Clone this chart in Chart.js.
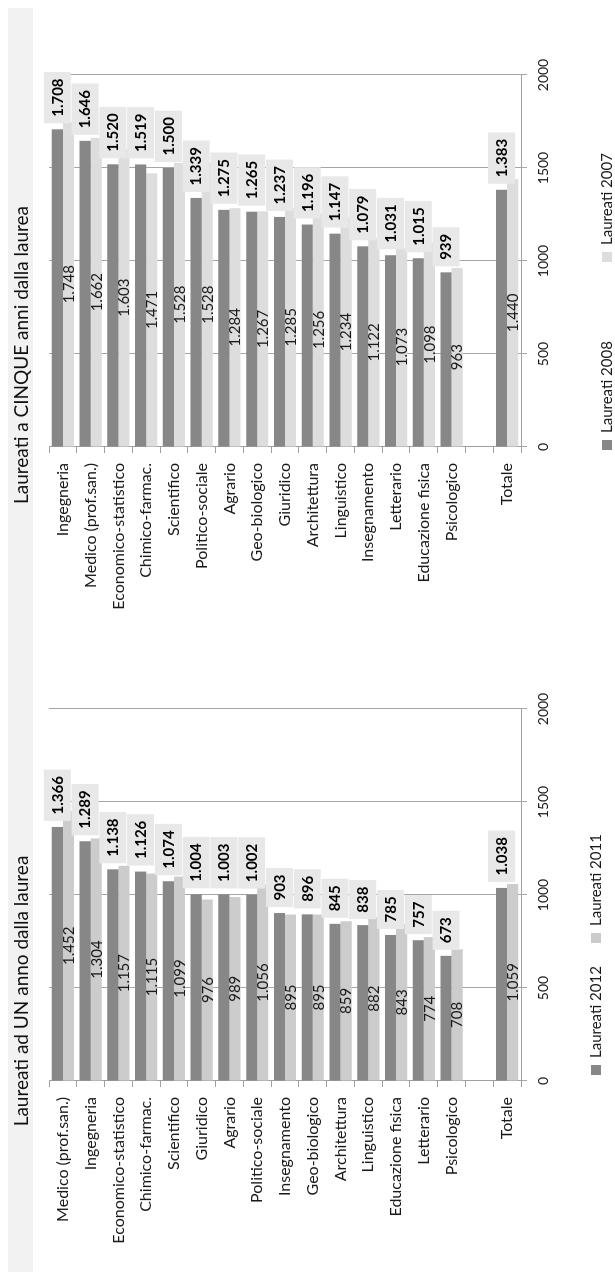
<!DOCTYPE html>
<html>
<head>
<meta charset="utf-8">
<script src="https://cdn.jsdelivr.net/npm/chart.js@4.4.1/dist/chart.umd.min.js"></script>
<style>
    body { margin: 0; width: 615px; height: 1273px; overflow: hidden; background: #fff; }
    .panel { position: absolute; left: 0; top: 0; height: 615px; transform-origin: 0 0; }
</style>
</head>
<body>

<div class="panel" style="width:635px; transform: translate(0px, 635px) rotate(-90deg);">
    <canvas id="chartCinque" width="635" height="615"></canvas>
</div>
<div class="panel" style="width:638px; transform: translate(0px, 1273px) rotate(-90deg);">
    <canvas id="chartUno" width="638" height="615"></canvas>
</div>

<script>
// ---- Laureati a CINQUE anni dalla laurea ----
const gruppiCinque = ['Ingegneria', 'Medico (prof.san.)', 'Economico-statistico', 'Chimico-farmac.',
    'Scientifico', 'Politico-sociale', 'Agrario', 'Geo-biologico', 'Giuridico', 'Architettura',
    'Linguistico', 'Insegnamento', 'Letterario', 'Educazione fisica', 'Psicologico', '', 'Totale'];
const laureati2008 = [1708, 1646, 1520, 1519, 1500, 1339, 1275, 1265, 1237, 1196, 1147, 1079, 1031, 1015, 939, null, 1383];
const laureati2007 = [1748, 1662, 1603, 1471, 1528, 1528, 1284, 1267, 1285, 1256, 1234, 1122, 1073, 1098, 963, null, 1440];

// ---- Laureati ad UN anno dalla laurea ----
const gruppiUno = ['Medico (prof.san.)', 'Ingegneria', 'Economico-statistico', 'Chimico-farmac.',
    'Scientifico', 'Giuridico', 'Agrario', 'Politico-sociale', 'Insegnamento', 'Geo-biologico',
    'Architettura', 'Linguistico', 'Educazione fisica', 'Letterario', 'Psicologico', '', 'Totale'];
const laureati2012 = [1366, 1289, 1138, 1126, 1074, 1004, 1003, 1002, 903, 896, 845, 838, 785, 757, 673, null, 1038];
const laureati2011 = [1452, 1304, 1157, 1115, 1099, 976, 989, 1056, 895, 895, 859, 882, 843, 774, 708, null, 1059];

const scalaValori = { min: 0, max: 2000, step: 500 };

Chart.defaults.font.family = 'Lato, "Open Sans", sans-serif';
Chart.defaults.color = '#1a1a1a';

// 1.708 style (dot as thousands separator, also for 4 digits)
function formatIt(n) {
    if (n < 1000) return String(n);
    return Math.floor(n / 1000) + '.' + String(n % 1000).padStart(3, '0');
}

// value labels: boxed bold text past the first series, plain text inside the second
const valueLabels = {
    id: 'valueLabels',
    afterDatasetsDraw(chart) {
        const ctx = chart.ctx;
        ctx.save();
        ctx.textBaseline = 'middle';
        chart.data.datasets.forEach((ds, i) => {
            const meta = chart.getDatasetMeta(i);
            meta.data.forEach((bar, j) => {
                const v = ds.data[j];
                if (v == null) return;
                const text = formatIt(v);
                if (i === 0) {
                    ctx.font = 'bold 15px Lato';
                    const w = ctx.measureText(text).width;
                    const x0 = bar.x + 6;
                    ctx.fillStyle = '#e8e8e8';
                    ctx.fillRect(x0, bar.y - 13.5, w + 13, 27);
                    ctx.fillStyle = '#000';
                    ctx.textAlign = 'left';
                    ctx.fillText(text, x0 + 6.5, bar.y + 0.5);
                } else {
                    ctx.font = '15px Lato';
                    ctx.fillStyle = '#1a1a1a';
                    ctx.textAlign = 'center';
                    ctx.fillText(text, (bar.x + bar.base) / 2, bar.y + 0.5);
                }
            });
        });
        ctx.restore();
    }
};

// grey band behind the title and a legend laid out by hand
const panelDecor = {
    id: 'panelDecor',
    beforeDraw(chart, args, opts) {
        const ctx = chart.ctx;
        ctx.save();
        ctx.fillStyle = '#f2f2f2';
        ctx.fillRect(opts.bandFrom, 8, opts.bandTo - opts.bandFrom, 25);
        ctx.restore();
    },
    afterDraw(chart, args, opts) {
        const ctx = chart.ctx;
        ctx.save();
        ctx.font = '15px Lato';
        ctx.textBaseline = 'middle';
        ctx.textAlign = 'left';
        chart.data.datasets.forEach((ds, i) => {
            const x = opts.legendStart + i * opts.legendStep;
            ctx.fillStyle = ds.backgroundColor;
            ctx.fillRect(x, opts.legendY - 5, 10, 10);
            ctx.fillStyle = '#1a1a1a';
            ctx.fillText(ds.label, x + 17, opts.legendY + 0.5);
        });
        ctx.restore();
    }
};

function buildChart(id, title, labels, serie, axisLeft, decor) {
    return new Chart(document.getElementById(id), {
        type: 'bar',
        data: {
            labels: labels,
            datasets: serie.map(s => ({
                label: s.label,
                data: s.data,
                backgroundColor: s.color,
                borderWidth: 0,
                categoryPercentage: 0.8,
                barPercentage: 1.0
            }))
        },
        options: {
            indexAxis: 'y',
            responsive: false,
            animation: false,
            layout: { padding: { left: 0, right: decor.padRight, top: 0, bottom: 0 } },
            plugins: {
                legend: { display: false },
                tooltip: { enabled: false },
                title: {
                    display: true,
                    text: title,
                    color: '#111',
                    font: { size: 19, weight: 'normal' },
                    padding: { top: 10.5, bottom: 15.7 }
                },
                panelDecor: decor
            },
            scales: {
                x: {
                    min: scalaValori.min,
                    max: scalaValori.max,
                    afterFit: s => { s.height = 94; },
                    grid: { color: '#a6a6a6', tickLength: 6 },
                    border: { color: '#a0a0a0' },
                    ticks: {
                        stepSize: scalaValori.step,
                        padding: 8,
                        font: { size: 14 },
                        color: '#1a1a1a',
                        callback: v => String(v)
                    }
                },
                y: {
                    afterFit: s => { s.width = axisLeft; },
                    grid: { drawOnChartArea: false, tickLength: 6, color: '#a0a0a0', offset: true },
                    border: { color: '#a0a0a0' },
                    ticks: { autoSkip: false, padding: 10, font: { size: 16 }, color: '#1a1a1a' }
                }
            }
        },
        plugins: [panelDecor, valueLabels]
    });
}

// =========================
// CHART 1 - CINQUE ANNI
// =========================
buildChart('chartCinque', 'Laureati a CINQUE anni dalla laurea', gruppiCinque, [
    { label: 'Laureati 2008', data: laureati2008, color: '#878787' },
    { label: 'Laureati 2007', data: laureati2007, color: '#dddddd' }
], 188, { padRight: 75, bandFrom: 0, bandTo: 627, legendStart: 185, legendStep: 188, legendY: 607 });

// =========================
// CHART 2 - UN ANNO
// =========================
buildChart('chartUno', 'Laureati ad UN anno dalla laurea', gruppiUno, [
    { label: 'Laureati 2012', data: laureati2012, color: '#878787' },
    { label: 'Laureati 2011', data: laureati2011, color: '#cccccc' }
], 192, { padRight: 74, bandFrom: 1, bandTo: 638, legendStart: 198, legendStep: 132, legendY: 596 });
</script>
</body>
</html>
